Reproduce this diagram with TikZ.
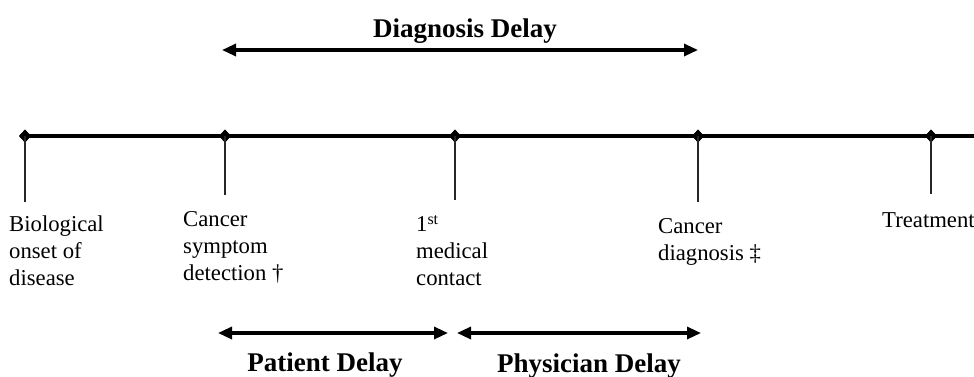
\documentclass[tikz,border=0pt]{standalone}
\usepackage{fontspec}
\setmainfont{Liberation Serif}
\usetikzlibrary{shapes.geometric,arrows.meta}
\begin{document}
\begin{tikzpicture}[x=1pt,y=-1pt,
  dia/.style={diamond,fill=black,inner sep=0pt,minimum width=12pt,minimum height=13pt},
  tick/.style={line width=1.6pt,draw=black!85},
  axis/.style={line width=3.6pt},
  span/.style={line width=3.2pt,{Triangle[length=14pt,width=12pt]}-{Triangle[length=14pt,width=12pt]}},
  lbl/.style={anchor=base west,align=left,inner sep=0pt,font=\fontsize{22.7}{26.6}\selectfont},
  blbl/.style={anchor=base,inner sep=0pt,font=\fontsize{27}{30}\selectfont\bfseries}]
\useasboundingbox (0,0) rectangle (974,376);
% timeline
\coordinate (tend) at (980,136);
\node[dia] (m1) at (25,136) {};
\node[dia] (m2) at (225,136) {};
\node[dia] (m3) at (455,136) {};
\node[dia] (m4) at (698,136) {};
\node[dia] (m5) at (931,136) {};
\draw[axis] (m1.center) -- (tend);
\foreach \n in {m1,m2,m3,m4,m5}{\node[dia] at (\n) {};}
% ticks
\coordinate (t1) at (25,202);
\coordinate (t2) at (225,195);
\coordinate (t3) at (455,200);
\coordinate (t4) at (698,202);
\coordinate (t5) at (931,194);
\draw[tick] (m1.center) -- (t1);
\draw[tick] (m2.center) -- (t2);
\draw[tick] (m3.center) -- (t3);
\draw[tick] (m4.center) -- (t4);
\draw[tick] (m5.center) -- (t5);
% labels (anchor = baseline of last line)
\node[lbl] (l1) at (9,285) {Biological\\onset of\\disease};
\node[lbl] (l2) at (183,280) {Cancer\\symptom\\detection \textdagger};
\node[lbl] (l3) at (416,285) {1\textsuperscript{st}\\medical\\contact};
\node[lbl] (l4) at (658,260) {Cancer\\diagnosis \textdaggerdbl};
\node[lbl] (l5) at (882,227) {Treatment};
% delay arrows
\coordinate (d1) at (222,50);
\coordinate (d2) at (698,50);
\draw[span] (d1) -- (d2);
\node[blbl] (dd) at (465,37) {Diagnosis Delay};
\coordinate (p1) at (218,333);
\coordinate (p2) at (448,333);
\draw[span] (p1) -- (p2);
\node[blbl] (pd) at (325,371) {Patient Delay};
\coordinate (q1) at (457,333);
\coordinate (q2) at (701,333);
\draw[span] (q1) -- (q2);
\node[blbl] (qd) at (589,372) {Physician Delay};
\end{tikzpicture}
\end{document}
